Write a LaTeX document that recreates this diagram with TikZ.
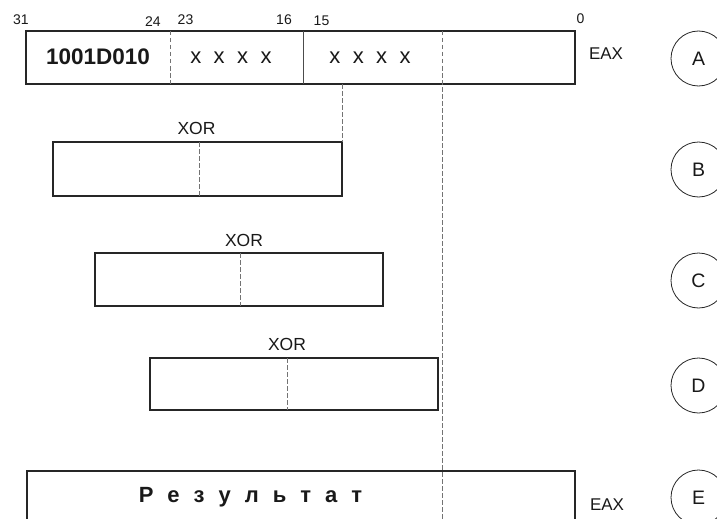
\documentclass[tikz,border=0pt]{standalone}
\usepackage{fontspec}
\setmainfont{Liberation Sans}
\begin{document}
\begin{tikzpicture}[x=1pt,y=-1pt,
  box/.style={draw=black!85, line width=1.2pt, rectangle, inner sep=0pt, outer sep=0pt, anchor=north west},
  dsh/.style={draw=black!55, line width=0.9pt, dash pattern=on 4.5pt off 2.5pt},
  sol/.style={draw=black!70, line width=1pt},
  num/.style={inner sep=0pt, text=black!90, font=\fontsize{14}{14}\selectfont},
  xor/.style={inner sep=0pt, text=black!90, font=\fontsize{17.5}{17.5}\selectfont},
  eax/.style={inner sep=0pt, text=black!90, font=\fontsize{17}{17}\selectfont},
  circ/.style={circle, draw=black!85, line width=0.8pt, minimum size=55pt, inner sep=0pt, text=black!90, font=\fontsize{19.5}{19.5}\selectfont}]
\clip (0,0) rectangle (717,519);
\fill[white] (0,0) rectangle (717,519);

% register EAX (A)
\node[box, minimum width=549pt, minimum height=53pt] (reg) at (26,31) {};
\draw[dsh] (170.7,31) -- (170.7,84);
\draw[sol] (303,31) -- (303,84);
\node[num] (n31) at (21,20) {31};
\node[num] (n24) at (153,22) {24};
\node[num] (n23) at (185.5,20) {23};
\node[num] (n16) at (284,20) {16};
\node[num] (n15) at (321.5,21) {15};
\node[num] (n0) at (580.5,18.5) {0};
\node[inner sep=0pt, text=black!90, font=\bfseries\fontsize{22.5}{22.5}\selectfont] (val) at (98,57) {1001D010};
\node[inner sep=0pt, text=black!90, font=\fontsize{22}{22}\selectfont] (xa) at (231,58) {x\hspace{12.5pt}x\hspace{12.5pt}x\hspace{12.5pt}x};
\node[inner sep=0pt, text=black!90, font=\fontsize{22}{22}\selectfont] (xb) at (370,58) {x\hspace{12.5pt}x\hspace{12.5pt}x\hspace{12.5pt}x};
\node[eax] (eaxA) at (606,53.5) {EAX};

% box B
\node[box, minimum width=289pt, minimum height=54pt] (bB) at (53,142) {};
\draw[dsh] (199,142) -- (199,196);
\node[xor] (xorB) at (196.5,128) {XOR};
\draw[dsh] (reg.south -| bB.north east) -- (bB.north east);

% box C
\node[box, minimum width=288pt, minimum height=53pt] (bC) at (95,253) {};
\draw[dsh] (240,253) -- (240,306);
\node[xor] (xorC) at (244,240) {XOR};

% box D
\node[box, minimum width=288pt, minimum height=52pt] (bD) at (150,358) {};
\draw[dsh] (287,358) -- (287,410);
\node[xor] (xorD) at (287,344.5) {XOR};

% result (E)
\node[box, minimum width=548pt, minimum height=70pt] (bE) at (27,471) {};
\node[inner sep=0pt, text=black!90, font=\bfseries\fontsize{22}{22}\selectfont] (res) at (250.5,497) {Р\hspace{14pt}е\hspace{14pt}з\hspace{14pt}у\hspace{14pt}л\hspace{14pt}ь\hspace{14pt}т\hspace{14pt}а\hspace{14pt}т};
\node[eax] (eaxE) at (607,505) {EAX};

% long dashed line
\coordinate (lt) at (442,31);
\coordinate (lb) at (442,519);
\draw[dsh] (lt) -- (lb);

% circles
\node[circ] (cA) at (698.5,58.5) {A};
\node[circ] (cB) at (698.5,169.5) {B};
\node[circ] (cC) at (698.5,280.5) {C};
\node[circ] (cD) at (698.5,385.5) {D};
\node[circ] (cE) at (698.5,497.5) {E};
\end{tikzpicture}
\end{document}
